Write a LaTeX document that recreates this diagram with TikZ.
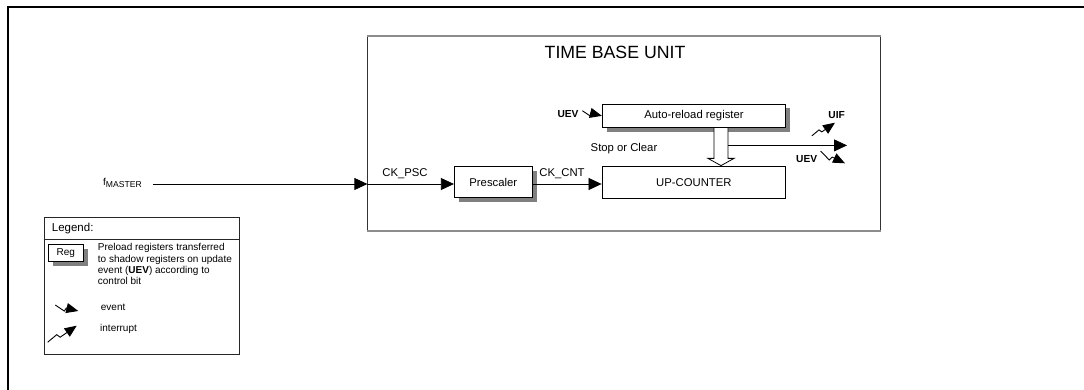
\documentclass[tikz,border=0pt]{standalone}
\usepackage{fontspec}
\setmainfont{Liberation Sans}
\usetikzlibrary{arrows.meta,calc}
\tikzset{
  box/.style={draw=black, line width=0.8pt, fill=white, inner sep=0pt},
  shadowbox/.style={fill=black!50, draw=none, inner sep=0pt},
  lbl/.style={inner sep=0pt, font=\fontsize{11.3}{13}\selectfont},
  boldlbl/.style={inner sep=0pt, font=\fontsize{10.2}{12}\selectfont\bfseries},
  arr/.style={line width=0.75pt, -{Triangle[length=13pt,width=12pt]}},
  evt/.pic={\draw[line width=0.9pt, line join=miter, -{Triangle[length=12pt,width=10pt]}] (-23,-6) -- (-14,0) -- (-12,-3) -- (0,0);},
  intr/.pic={\draw[line width=0.9pt, line join=miter, -{Triangle[length=12pt,width=10pt]}] (-29,16.5) -- (-20,9) -- (-16.5,11.5) -- (0,0);}
}
\begin{document}
\begin{tikzpicture}[x=1pt,y=-1pt]
\useasboundingbox (0,0) rectangle (1084,390);
% outer frame (open)
\draw[line width=2pt] (7.5,390) -- (7.5,7) -- (1084,7);

% time base unit frame
\node[minimum width=513pt, minimum height=194.5pt, inner sep=0pt] (tbu) at (624.1,133.25) {};
\draw[black!80, line width=0.7pt] (tbu.north west) -- (tbu.south west);
\draw[black!80, line width=0.7pt] (tbu.north east) -- (tbu.south east);
\draw[black!45, line width=1.6pt] (tbu.north west) -- (tbu.north east);
\draw[black!45, line width=1.6pt] (tbu.south west) -- (tbu.south east);
\node[inner sep=0pt, font=\fontsize{17.7}{20}\selectfont] (title) at (615,52.7) {TIME BASE UNIT};

% drop shadows of preload registers (drawn first)
\node[shadowbox, minimum width=183.4pt, minimum height=23.7pt] (arrsh) at (698.5,120.35) {};
\node[shadowbox, minimum width=78pt, minimum height=31pt] (presh) at (497.8,186.7) {};
\node[shadowbox, minimum width=35pt, minimum height=16.7pt] (regsh) at (70.3,257.15) {};

% blocks
\node[box, minimum width=183.4pt, minimum height=23.7pt] (arr) at (694,115.85) {\fontsize{11.3}{13}\selectfont Auto-reload register};
\node[box, minimum width=183.7pt, minimum height=32.3pt] (uc) at (693.85,182.15) {\fontsize{11.3}{13}\selectfont UP-COUNTER};
\node[box, minimum width=78pt, minimum height=31pt] (pre) at (493.3,182.2) {\fontsize{11.3}{13}\selectfont Prescaler};

% clock path
\coordinate (lvl) at (0,184);
\node[inner sep=0pt, anchor=west] (fm) at (103,183) {\fontsize{10}{12}\selectfont f\raisebox{-2pt}{\fontsize{8.6}{10}\selectfont MASTER}};
\draw[arr] ($(fm.east |- lvl)+(11pt,0)$) -- (tbu.west |- lvl);
\draw[arr] (tbu.west |- lvl) -- (pre.west |- lvl);
\draw[arr] (pre.east |- lvl) -- (uc.west |- lvl);
\node[lbl] (ckpsc) at (405,174) {CK\_PSC};
\node[lbl] (ckcnt) at (562,174) {CK\_CNT};

% hollow transfer arrow
\coordinate (hx) at (721,0);
\coordinate (hl) at ($(hx |- arr.south)+(-7,0)$);
\coordinate (hr) at ($(hx |- arr.south)+(7,0)$);
\draw[line width=0.8pt, fill=white, line join=miter]
  (hl) -- ++(0,30.3) -- ++(-6,0) -- (hx |- uc.north) -- ($(hr)+(6,30.3)$) -- ++(-6,0) -- (hr);
\node[lbl] (stop) at (624,149) {Stop or Clear};

% output
\coordinate (os) at ($(hr)+(0,17.3)$);
\coordinate (oe) at (847,145);
\draw[arr] (os) -- (oe |- os);

% events
\node[boldlbl] (uev1) at (568,114) {UEV};
\pic[scale=0.85] at (arr.west) {evt};
\node[boldlbl] (uif) at (836.7,115) {UIF};
\pic[scale=0.8] at (835,122.7) {intr};
\node[boldlbl] (uev2) at (806.7,159.3) {UEV};
\pic[rotate=-12, scale=1.15] at (845,163.3) {evt};

% legend
\node[draw=black!85, line width=0.8pt, minimum width=195.5pt, minimum height=137pt, inner sep=0pt] (leg) at (141.75,285.8) {};
\draw[black!85, line width=0.8pt] ($(leg.north west)+(0,22)$) -- ($(leg.north east)+(0,22)$);
\node[inner sep=0pt, anchor=west, font=\fontsize{11.5}{13}\selectfont] (legt) at (51.7,229) {Legend:};
\node[box, minimum width=35pt, minimum height=16.7pt] (reg) at (65.8,252.65) {\fontsize{10}{12}\selectfont Reg};
\node[inner sep=0pt, anchor=north west, align=left, font=\fontsize{10}{11.3}\selectfont] (legtext) at (97.7,243.3)
  {Preload registers transferred\\to shadow registers on update\\event (\textbf{UEV}) according to\\control bit};
\node[inner sep=0pt, anchor=west, font=\fontsize{10}{12}\selectfont] (ev) at (100.7,307.7) {event};
\pic at (78.3,311) {evt};
\node[inner sep=0pt, anchor=west, font=\fontsize{10}{12}\selectfont] (ir) at (100,329.3) {interrupt};
\pic at (76.7,325.7) {intr};
\end{tikzpicture}
\end{document}
